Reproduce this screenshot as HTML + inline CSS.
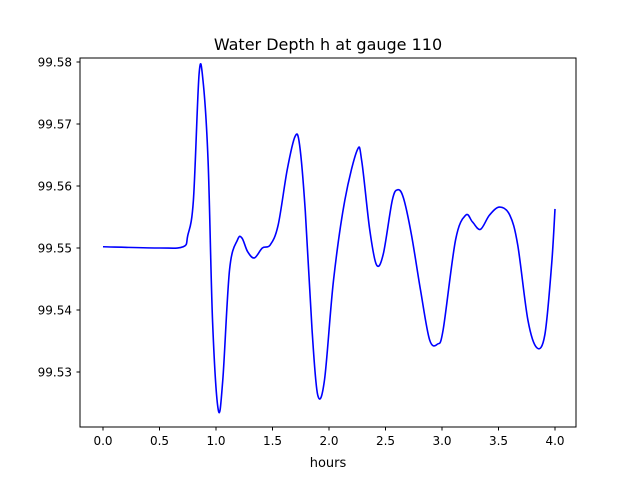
<!DOCTYPE html>
<html><head><meta charset="utf-8"><style>
body{margin:0;background:#fff;font-family:"Liberation Sans","DejaVu Sans",sans-serif}
</style></head><body>
<svg id="chart" width="640" height="480" xmlns="http://www.w3.org/2000/svg">
<rect width="640" height="480" fill="#fff"/>
<text x="328" y="50" text-anchor="middle" font-size="16" font-family="DejaVu Sans, sans-serif">Water Depth h at gauge 110</text>
<g id="ticks"></g>
<path id="line" fill="none" stroke="#0000ff" stroke-width="1.6"/>
<rect x="80" y="58" width="496" height="369" fill="none" stroke="#000" stroke-width="1"/>
<text x="328" y="467" text-anchor="middle" font-size="13" font-family="DejaVu Sans, sans-serif">hours</text>
</svg>
<script>
const hours=[0,0.5,0.71,0.75,0.8,0.85,0.885,0.93,0.97,1.02,1.06,1.12,1.19,1.23,1.28,1.34,1.41,1.48,1.55,1.63,1.70,1.74,1.79,1.85,1.90,1.96,2.04,2.14,2.25,2.29,2.36,2.42,2.48,2.56,2.61,2.66,2.73,2.81,2.89,2.96,3.01,3.12,3.21,3.27,3.34,3.42,3.51,3.60,3.67,3.76,3.84,3.91,3.97,4.0];
const depth=[99.5502,99.5500,99.5502,99.552,99.5577,99.578,99.577,99.564,99.538,99.5239,99.5287,99.5465,99.5513,99.5516,99.5494,99.5484,99.5500,99.5505,99.5537,99.5626,99.568,99.5666,99.556,99.5368,99.5263,99.5287,99.5448,99.5577,99.5658,99.564,99.553,99.5473,99.549,99.5577,99.5594,99.558,99.5521,99.5432,99.5352,99.5345,99.5368,99.5513,99.5553,99.5542,99.553,99.5553,99.5566,99.5553,99.5505,99.5384,99.5339,99.536,99.5473,99.5563];
const xTicks=[0,0.5,1,1.5,2,2.5,3,3.5,4];
const xTickLabels=["0.0","0.5","1.0","1.5","2.0","2.5","3.0","3.5","4.0"];
const yTicks=[99.53,99.54,99.55,99.56,99.57,99.58];
const yTickLabels=["99.53","99.54","99.55","99.56","99.57","99.58"];
const X=v=>103+(v)*113;
const Y=v=>62+(99.58-v)*6200;
const NS="http://www.w3.org/2000/svg";
const g=document.getElementById('ticks');
function mk(t,a){const e=document.createElementNS(NS,t);for(const k in a)e.setAttribute(k,a[k]);g.appendChild(e);return e;}
xTicks.forEach((v,i)=>{
 const l=mk('line',{x1:X(v),x2:X(v),y1:427,y2:430.5,stroke:'#000'});
 
 
 const t=mk('text',{x:X(v),y:445,'text-anchor':'middle','font-size':'12','font-family':'DejaVu Sans, sans-serif'});
 t.textContent=xTickLabels[i];
 
 
});
yTicks.forEach((v,i)=>{
 const l=mk('line',{x1:76.5,x2:80,y1:Y(v),y2:Y(v),stroke:'#000'});
 
 
 const t=mk('text',{x:72,y:Y(v)+4.5,'text-anchor':'end','font-size':'12','font-family':'DejaVu Sans, sans-serif'});
 t.textContent=yTickLabels[i];
 
 
});
const P=hours.map((h,i)=>[X(h),Y(depth[i])]);
let d='M'+P[0][0]+','+P[0][1];
for(let i=0;i<P.length-1;i++){
 const p0=P[Math.max(0,i-1)],p1=P[i],p2=P[i+1],p3=P[Math.min(P.length-1,i+2)];
 const c1=[p1[0]+(p2[0]-p0[0])/6,p1[1]+(p2[1]-p0[1])/6];
 const c2=[p2[0]-(p3[0]-p1[0])/6,p2[1]-(p3[1]-p1[1])/6];
 d+=' C'+c1+' '+c2+' '+p2;
}
document.getElementById('line').setAttribute('d',d);
</script>
</body></html>
